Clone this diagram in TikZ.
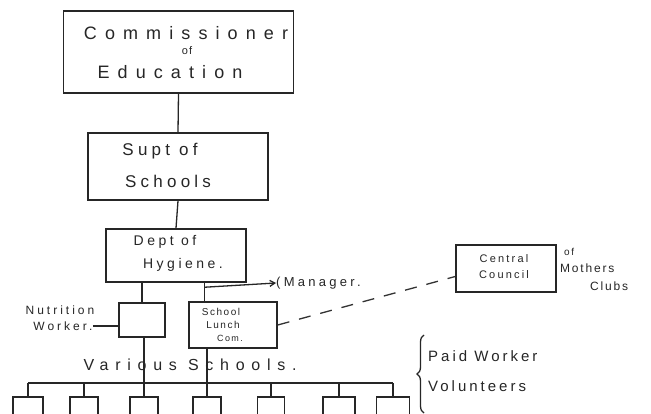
\documentclass[tikz,border=0pt]{standalone}
\usepackage{fontspec}
\usetikzlibrary{calc,decorations.pathreplacing,arrows.meta}
\newfontfamily\hand{Liberation Sans}
\newcommand{\hwf}[2]{\hand\fontsize{#1}{#1}\selectfont\addfontfeature{LetterSpace=#2}}
\begin{document}
\begin{tikzpicture}[x=1pt,y=-1pt,
  ink/.style={draw=black!85, line width=1.5pt},
  box/.style={ink, rectangle, inner sep=0pt},
  wire/.style={draw=black!85, line width=1.3pt},
  dashwire/.style={draw=black!80, line width=1.3pt, dash pattern=on 12pt off 10pt},
  txt/.style={inner sep=0pt, text=black!85}]
\useasboundingbox[fill=white] (0,0) rectangle (651,414);
% boxes
\node[box, minimum width=230pt, minimum height=82pt] (comm) at (178.5,52) {};
\node[box, minimum width=180pt, minimum height=67pt] (supt) at (178,166.5) {};
\node[box, minimum width=140pt, minimum height=53pt] (dept) at (176,255.5) {};
\node[box, minimum width=46pt, minimum height=34pt] (nutr) at (142,320) {};
\node[box, minimum width=88pt, minimum height=46pt] (lunch) at (233,325) {};
\node[box, minimum width=100pt, minimum height=47pt] (council) at (506,268.5) {};
% small school boxes
\foreach \n/\x/\w in {1/28/30,2/84/28,3/144/28,4/207/28,5/271/27,6/339/32,7/393/33}
  \node[box, minimum width=\w pt, minimum height=18pt] (s\n) at (\x,406) {};
% texts
\node[txt, font=\hwf{18}{45}] (t1) at (186,33) {Commissioner};
\node[txt, font=\hwf{11}{10}] (t2) at (187,51) {of};
\node[txt, font=\hwf{18}{45}] (t3) at (170,72) {Education};
\node[txt, font=\hwf{17}{25}] (t4) at (160,151) {Supt of};
\node[txt, font=\hwf{17}{25}] (t5) at (168,181) {Schools};
\node[txt, font=\hwf{14}{25}] (t6) at (165,242) {Dept of};
\node[txt, font=\hwf{14}{25}] (t7) at (183,265) {Hygiene.};
\node[txt, font=\hwf{12}{25}] (t8) at (60,310) {Nutrition};
\node[txt, font=\hwf{12}{25}] (t9) at (63,326) {Worker.};
\node[txt, font=\hwf{10}{15}] (t10) at (221,312) {School};
\node[txt, font=\hwf{10}{15}] (t11) at (223,325) {Lunch};
\node[txt, font=\hwf{9}{15}] (t12) at (230,338) {Com.};
\node[txt, font=\hwf{13}{25}, anchor=west] (mgr) at (276,283) {(Manager.};
\node[txt, font=\hwf{11}{20}] (t13) at (504,259) {Central};
\node[txt, font=\hwf{11}{20}] (t14) at (504,275) {Council};
\node[txt, font=\hwf{10}{15}, anchor=west] (t15) at (564,252) {of};
\node[txt, font=\hwf{12}{15}, anchor=west] (t16) at (560,268) {Mothers};
\node[txt, font=\hwf{12}{15}, anchor=west] (t17) at (590,286) {Clubs};
\node[txt, font=\hwf{16}{42}] (t18) at (190,365) {Various Schools.};
\node[txt, font=\hwf{15}{20}, anchor=west] (t19) at (428,356) {Paid Worker};
\node[txt, font=\hwf{15}{20}, anchor=west] (t20) at (428,386) {Volunteers};
% connectors
\draw[wire] (comm.south) -- (supt.north);
\draw[wire] (supt.south) -- (dept.north);
\draw[wire] (dept.south -| nutr.north) -- (nutr.north);
\coordinate (lx) at ($(lunch.north west)+(16,0)$);
\draw[wire] (dept.south -| lx) -- (lx);
\coordinate (mstart) at ($(lx)+(0,-14)$);
\draw[wire, -{Straight Barb[length=5pt,width=6pt]}] (mstart) -- (mgr.west);
\draw[wire] (t9.east) -- (t9.east -| nutr.west);
\coordinate (bus) at (0,383);
\draw[wire] (bus -| s1.north) -- (bus -| s7.north);
\foreach \n in {1,2,4,5,6,7} \draw[wire] (bus -| s\n.north) -- (s\n.north);
\draw[wire] (nutr.south -| s3.north) -- (s3.north);
\draw[wire] (lunch.south -| s4.north) -- (s4.north);
\draw[dashwire] (lunch.east) -- ($(council.west)+(0,8)$);
\coordinate (brtop) at (424,335);
\coordinate (brbot) at (424,413);
\draw[wire, decorate, decoration={brace, amplitude=7pt}] (brbot) -- (brtop);
\end{tikzpicture}
\end{document}
